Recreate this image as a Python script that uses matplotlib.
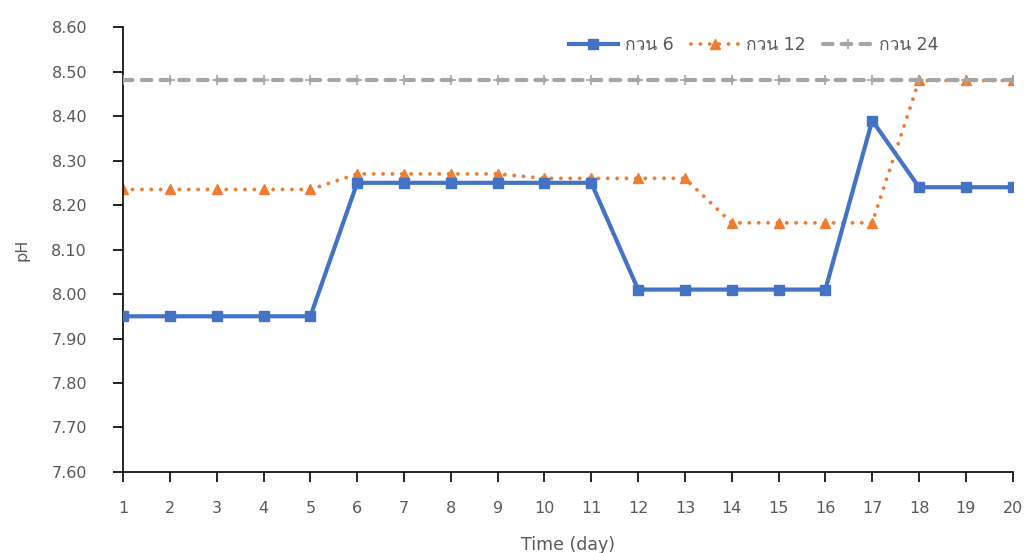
import matplotlib
matplotlib.use("Agg")
import matplotlib.pyplot as plt
from matplotlib import font_manager
from matplotlib.ft2font import FT2Font

# data
days = list(range(1, 21))
kuan6 = [7.95, 7.95, 7.95, 7.95, 7.95, 8.25, 8.25, 8.25, 8.25, 8.25,
         8.25, 8.01, 8.01, 8.01, 8.01, 8.01, 8.39, 8.24, 8.24, 8.24]
kuan12 = [8.235, 8.235, 8.235, 8.235, 8.235, 8.27, 8.27, 8.27, 8.27, 8.26,
          8.26, 8.26, 8.26, 8.16, 8.16, 8.16, 8.16, 8.48, 8.48, 8.48]
kuan24 = [8.48] * 20
labels = ["กวน 6", "กวน 12", "กวน 24"]
yticks = [7.60, 7.70, 7.80, 7.90, 8.00, 8.10, 8.20, 8.30, 8.40, 8.50, 8.60]


def thai_family():
    # look for any installed font that has Thai glyphs
    for f in font_manager.fontManager.ttflist:
        try:
            ft = FT2Font(f.fname)
            if ft.get_char_index(ord("ก")):
                return f.name
        except Exception:
            pass
    return None


fams = ["DejaVu Sans"]
th = thai_family()
if th:
    fams = ["DejaVu Sans", th]
plt.rcParams["font.family"] = fams

txt = "#595959"
fig = plt.figure(figsize=(10.26, 5.53), dpi=100)
ax = fig.add_axes([0.12, 0.1465, 0.867, 0.8045])

ax.plot(days, kuan6, color="#4472C4", lw=3, marker="s", ms=7,
        label=labels[0], zorder=3)
ax.plot(days, kuan12, color="#ED7D31", lw=2.8, ls=(0, (0.01, 2.4)),
        dash_capstyle="round", marker="^", ms=7.5, label=labels[1], zorder=2)
ax.plot(days, kuan24, color="#A5A5A5", lw=3, ls=(0, (2.3, 2.2)),
        dash_capstyle="round", marker="+", ms=7, mew=1.2,
        label=labels[2], zorder=4)

ax.set_xlim(1, 20)
ax.set_ylim(7.60, 8.60)
ax.set_xticks(days)
ax.set_yticks(yticks)
ax.set_yticklabels([f"{v:.2f}" for v in yticks])
ax.tick_params(colors="black", labelcolor=txt, labelsize=11.5, length=7,
               width=1.2, direction="out")
ax.tick_params(axis="x", pad=14)
ax.tick_params(axis="y", pad=19)

for s in ["top", "right"]:
    ax.spines[s].set_visible(False)
for s in ["left", "bottom"]:
    ax.spines[s].set_linewidth(1.2)
    ax.spines[s].set_color("black")

ax.set_xlabel("Time (day)", color=txt, fontsize=12.5, labelpad=14)
ax.set_ylabel("pH", color=txt, fontsize=11.5, labelpad=16)

leg = ax.legend(loc="upper right", bbox_to_anchor=(0.934, 1.016), ncol=3,
                frameon=False, fontsize=12.5, handlelength=2.8,
                handletextpad=0.4, columnspacing=1.0, labelcolor=txt)

fig.savefig("out.png", dpi=100)
